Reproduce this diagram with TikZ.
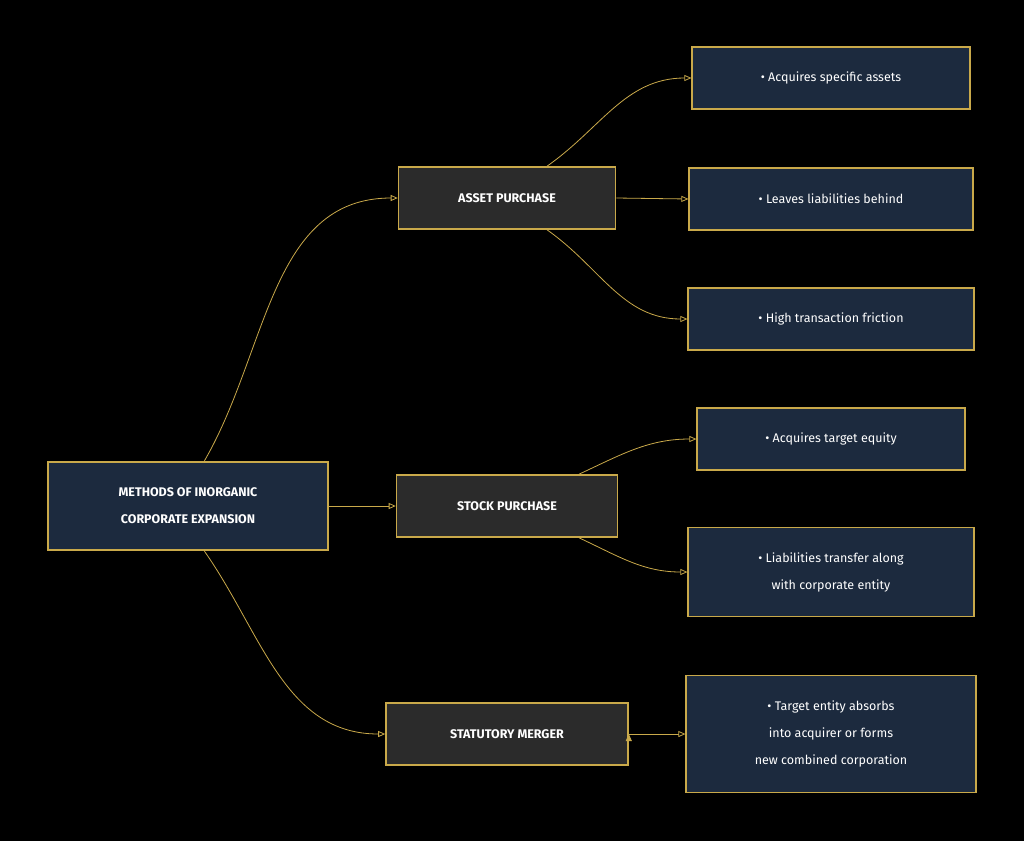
\documentclass[tikz,border=0pt]{standalone}
\usepackage{fontspec}
\setmainfont{Fira Sans}
\usetikzlibrary{arrows.meta,positioning,calc}
\definecolor{gold}{HTML}{C9A94A}
\definecolor{navy}{HTML}{1C2A3E}
\definecolor{coal}{HTML}{2B2B2B}
\begin{document}
\begin{tikzpicture}[x=1pt,y=1pt,->,>={Triangle[length=7pt,width=6pt]}, semithick]
        \tikzset{
           root/.style={
                        rectangle,
                        draw=gold,
                        line width=2.4pt,
                        fill=navy,
                        text=white,
                        align=center,
                        minimum width=280pt,
                        minimum height=88pt,
                        font=\fontsize{12.5}{27}\selectfont\bfseries
                       },
           mid/.style={
                        rectangle,
                        draw=gold,
                        line width=1.6pt,
                        fill=coal,
                        text=white,
                        minimum height=62pt,
                        font=\fontsize{12.5}{15}\selectfont\bfseries
                       },
           leaf/.style={
                        rectangle,
                        draw=gold,
                        line width=1.2pt,
                        fill=navy,
                        text=white,
                        align=center,
                        font=\fontsize{12.5}{27}\selectfont
                       },
           link/.style={draw=gold, line width=0.8pt}
                 };
        \fill[black] (0,0) rectangle (1024,-841);
        \useasboundingbox (0,0) rectangle (1024,-841);
        %----------------
        \node[root] (methods) at (188,-506) {METHODS OF INORGANIC\\CORPORATE EXPANSION};
        \node[mid, minimum width=217pt] (asset) at (507,-198) {ASSET PURCHASE};
        \node[mid, minimum width=221pt] (stock) at (507,-506) {STOCK PURCHASE};
        \node[mid, minimum width=242pt] (merger) at (507,-734) {STATUTORY MERGER};
        \node[leaf, minimum width=278pt, minimum height=62pt] (specific) at (831,-78) {• Acquires specific assets};
        \node[leaf, minimum width=284pt, minimum height=62pt] (behind) at (831,-199) {• Leaves liabilities behind};
        \node[leaf, minimum width=286pt, minimum height=62pt] (friction) at (831,-319) {• High transaction friction};
        \node[leaf, minimum width=268pt, minimum height=62pt] (equity) at (831,-439) {• Acquires target equity};
        \node[leaf, minimum width=286pt, minimum height=89pt] (transfer) at (831,-572) {• Liabilities transfer along\\with corporate entity};
        \node[leaf, minimum width=290pt, minimum height=117pt] (absorbs) at (831,-734) {• Target entity absorbs\\into acquirer or forms\\new combined corporation};
        %----------------
        \path[link] (methods.70) edge[out=60, in=180] (asset.west)
              (methods.east) edge (stock.west)
              (methods.-70) edge[out=-55, in=180] (merger.west)
              ($(asset.north)+(40,0)$) edge[out=35, in=180] (specific.west)
              (asset.east) edge (behind.west)
              ($(asset.south)+(40,0)$) edge[out=-35, in=180] (friction.west)
              ($(stock.north)+(72,0)$) edge[out=25, in=180] (equity.west)
              ($(stock.south)+(72,0)$) edge[out=-25, in=180] (transfer.west)
              (merger.east) edge (absorbs.west)
        ;
    \end{tikzpicture}
\end{document}
